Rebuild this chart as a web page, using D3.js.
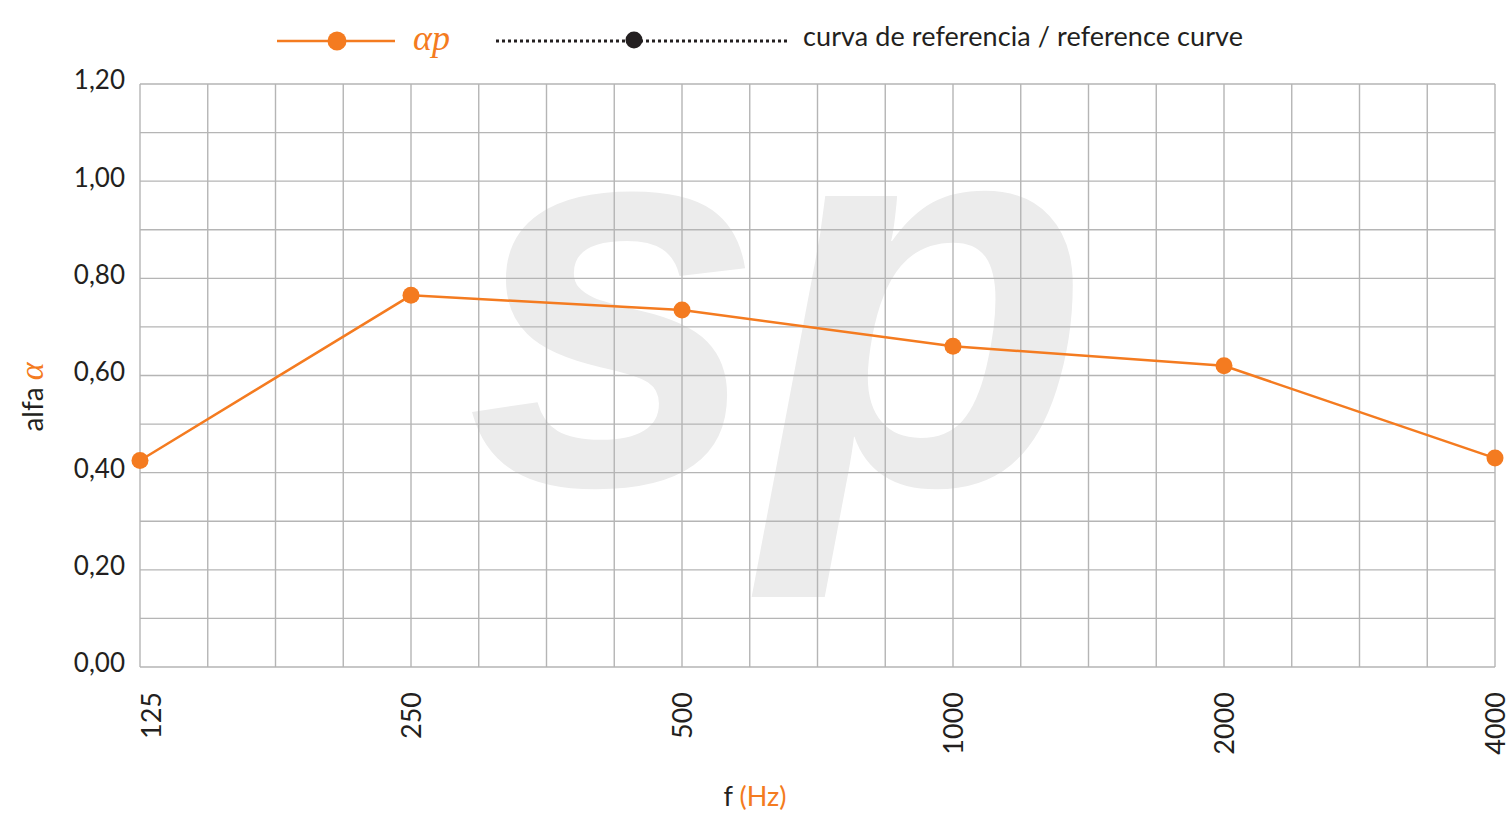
<!DOCTYPE html>
<html>
<head>
<meta charset="utf-8">
<script src="https://cdn.jsdelivr.net/npm/d3@7"></script>
<style>
  body { margin: 0; background: #fff; }
  svg { display: block; font-family: Lato, "Open Sans", sans-serif; }
</style>
</head>
<body>
<svg id="chart" width="1506" height="813"></svg>
<script>
// data
var freqs = [125, 250, 500, 1000, 2000, 4000];
var alphaP = [0.425, 0.765, 0.735, 0.66, 0.62, 0.43];
var yTicks = [0, 0.2, 0.4, 0.6, 0.8, 1.0, 1.2];
var yGrid = [0, 0.1, 0.2, 0.3, 0.4, 0.5, 0.6, 0.7, 0.8, 0.9, 1.0, 1.1, 1.2];
var legendRef = "curva de referencia / reference curve";

var orange = "#f47b20", ink = "#231f20", gridCol = "#b5b5b5";

var svg = d3.select("#chart");
var margin = {top: 84, right: 11, bottom: 146, left: 140},
	width = svg.attr("width") - margin.left - margin.right,
	height = svg.attr("height") - margin.top - margin.bottom;

var x = d3.scaleLog().base(2).domain([125, 4000]).range([margin.left, margin.left + width]);
var y = d3.scaleLinear().domain([0, 1.2]).range([margin.top + height, margin.top]);

// watermark
svg.append("text")
	.attr("x", 466)
	.attr("y", 484)
	.attr("textLength", 624)
	.attr("lengthAdjust", "spacingAndGlyphs")
	.style("font-family", "'Liberation Sans', Arial, sans-serif")
	.style("font-weight", "bold")
	.style("font-style", "italic")
	.style("font-size", "545px")
	.style("fill", "#ececec")
	.text("sp");

// grid: 4 lines per octave
var xGrid = d3.range(0, 21).map(function(k) { return 125 * Math.pow(2, k / 4); });
var g = svg.append("g");
g.selectAll(".vgrid").data(xGrid).enter().append("line")
	.attr("x1", function(d) { return x(d); }).attr("x2", function(d) { return x(d); })
	.attr("y1", y(0)).attr("y2", y(1.2))
	.attr("stroke", gridCol).attr("stroke-width", 1.4);
g.selectAll(".hgrid").data(yGrid).enter().append("line")
	.attr("x1", x(125)).attr("x2", x(4000))
	.attr("y1", function(d) { return y(d); }).attr("y2", function(d) { return y(d); })
	.attr("stroke", gridCol).attr("stroke-width", 1.4);

// y tick labels
svg.selectAll(".ylab").data(yTicks).enter().append("text")
	.attr("x", 125)
	.attr("y", function(d) { return y(d) - 4; })
	.attr("dy", "0.36em")
	.attr("text-anchor", "end")
	.style("font-size", "26px")
	.style("fill", ink)
	.text(function(d) { return d.toFixed(2).replace(".", ","); });

// x tick labels (rotated)
svg.selectAll(".xlab").data(freqs).enter().append("text")
	.attr("transform", function(d) { return "translate(" + (x(d) + (d == 125 ? 11 : 0)) + ",692) rotate(-90)"; })
	.attr("dy", "0.36em")
	.attr("text-anchor", "end")
	.style("font-size", "27px")
	.style("fill", ink)
	.text(function(d) { return d; });

// axis titles
var yt = svg.append("text")
	.attr("transform", "translate(43,397) rotate(-90)")
	.attr("text-anchor", "middle")
	.style("font-size", "28px")
	.style("fill", ink);
yt.append("tspan").style("fill", ink).text("alfa ");
yt.append("tspan").style("fill", orange).style("font-family", "'Liberation Serif', serif")
	.style("font-style", "italic").style("font-size", "34px").text("α");

var xt = svg.append("text")
	.attr("x", 755).attr("y", 806)
	.attr("text-anchor", "middle")
	.style("font-size", "27px")
	.style("fill", ink);
xt.append("tspan").text("f ");
xt.append("tspan").style("fill", orange).text("(Hz)");

// series
var pts = freqs.map(function(f, i) { return {f: f, v: alphaP[i]}; });
var line = d3.line()
	.x(function(d) { return x(d.f); })
	.y(function(d) { return y(d.v); });

svg.append("path")
	.datum(pts)
	.attr("d", line)
	.attr("fill", "none")
	.attr("stroke", orange)
	.attr("stroke-width", 2.5);

svg.selectAll(".pt").data(pts).enter().append("circle")
	.attr("cx", function(d) { return x(d.f); })
	.attr("cy", function(d) { return y(d.v); })
	.attr("r", 8.5)
	.attr("fill", orange);

// legend
var lg = svg.append("g");
lg.append("line").attr("x1", 277).attr("x2", 395).attr("y1", 41).attr("y2", 41)
	.attr("stroke", orange).attr("stroke-width", 2.5);
lg.append("circle").attr("cx", 337).attr("cy", 41).attr("r", 9.5).attr("fill", orange);
lg.append("text").attr("x", 413).attr("y", 50)
	.style("font-family", "'Liberation Serif', serif").style("font-style", "italic")
	.style("font-size", "36px").style("fill", orange).text("αp");

lg.append("line").attr("x1", 496).attr("x2", 788).attr("y1", 41).attr("y2", 41)
	.attr("stroke", ink).attr("stroke-width", 3).attr("stroke-dasharray", "3,3");
lg.append("circle").attr("cx", 634).attr("cy", 40).attr("r", 8.5).attr("fill", ink);
lg.append("text").attr("x", 803).attr("y", 46)
	.attr("textLength", 440)
	.style("font-size", "27px").style("fill", ink).text(legendRef);
</script>
</body>
</html>
